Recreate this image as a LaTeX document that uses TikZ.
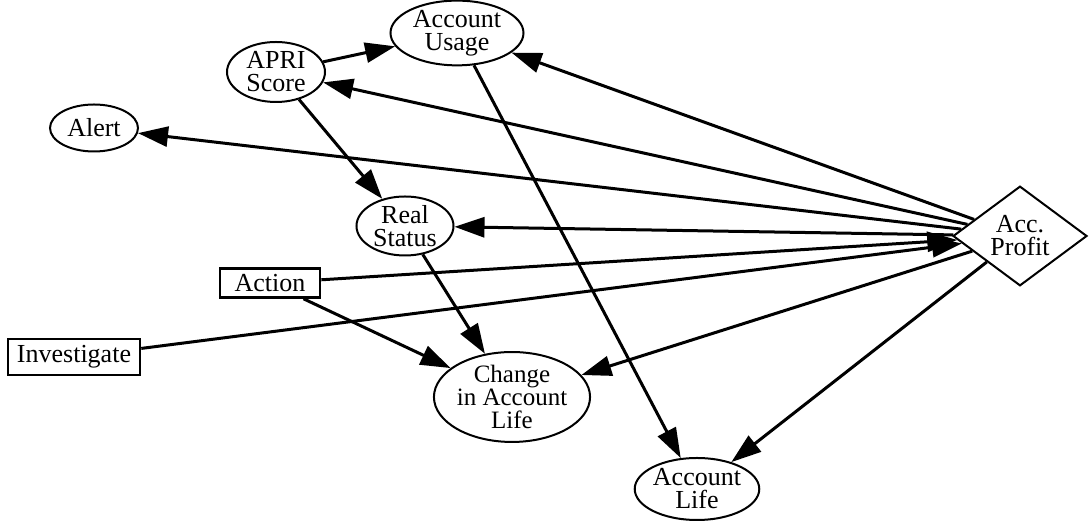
\documentclass[tikz,border=0pt]{standalone}
\usepackage{fontspec}
\setmainfont{Liberation Serif}
\usepackage{tikz}
\usetikzlibrary{shapes.geometric, arrows.meta}
\tikzstyle{chance} = [ellipse,draw,line width=1pt,inner sep=0pt,align=center]
\tikzstyle{decision} = [rectangle,draw,line width=1.3pt,inner sep=0pt,align=center]
\tikzstyle{utility} = [diamond,draw,line width=1pt,inner sep=0pt,align=center]
\tikzstyle{arrow} = [line width=1.5pt,-{Triangle[length=15pt,width=10pt]}]

\begin{document}
\begin{tikzpicture}[x=0.5pt,y=-0.5pt,font=\fontsize{13}{11.5}\selectfont]
    \useasboundingbox (0,0) rectangle (1089,522);
   	\node[chance,minimum width=66.5pt,minimum height=26.5pt](usage) at (457,33) {Account\\Usage};
   	\node[chance,minimum width=49pt,minimum height=30pt](apri) at (276,72) {APRI\\Score};
   	\node[chance,minimum width=44pt,minimum height=23.5pt](alert) at (94,128) {Alert};
   	\node[chance,minimum width=48.5pt,minimum height=29.5pt](real) at (405,226) {Real\\Status};
   	\node[chance,minimum width=75.5pt,minimum height=39.5pt,font=\fontsize{12.5}{11.5}\selectfont](change) at (512,397) {Change\\in Account\\Life};
   	\node[chance,minimum width=55pt,minimum height=31pt](life) at (697,489) {Account\\Life};
   	\node[decision,minimum width=50pt,minimum height=14.5pt](action) at (270,283) {Action};
   	\node[decision,minimum width=66pt,minimum height=18pt](invest) at (74,357) {Investigate};
   	\node[utility,minimum width=67pt,minimum height=36pt](profit) at (1020,236) {Acc.\\Profit};
    \path[arrow]
    (apri) edge node {} (usage)
    (apri) edge node {} (real)
    (real) edge node {} (change)
    (action) edge node {} (change)
    (usage) edge node {} (life)
    (action) edge node {} (profit)
    (invest) edge node {} (profit)
    (profit) edge node {} (usage)
    (profit) edge node {} (apri)
    (profit) edge node {} (alert)
    (profit) edge node {} (real)
    (profit) edge node {} (change)
    (profit) edge node {} (life);
\end{tikzpicture}
\end{document}
